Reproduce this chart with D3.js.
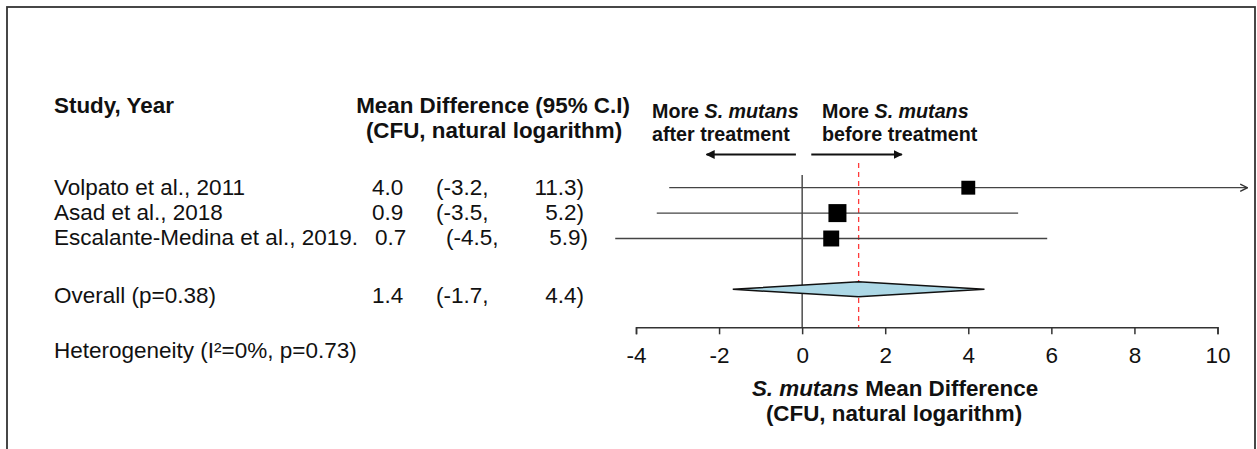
<!DOCTYPE html>
<html><head><meta charset="utf-8">
<script src="https://cdn.jsdelivr.net/npm/d3@7"></script>
<style>
html,body{margin:0;padding:0;background:#fff;}
svg{display:block;font-family:"Liberation Sans",Arial,Helvetica,sans-serif;}
</style></head>
<body>
<svg id="chart" width="1257" height="449"></svg>
<script>
// ---- data ----
const studies = ["Volpato et al., 2011", "Asad et al., 2018", "Escalante-Medina et al., 2019."];
const estimates = [4.0, 0.85, 0.7];
const lowerCI = [-3.2, -3.5, -4.5];
const upperCI = [11.3, 5.2, 5.9];
const weights = [25, 42, 33];
const estLabels = ["4.0", "0.9", "0.7"];
const lowLabels = ["(-3.2,", "(-3.5,", "(-4.5,"];
const highLabels = ["11.3)", "5.2)", "5.9)"];
const overall = {label: "Overall (p=0.38)", est: 1.36, lo: -1.67, hi: 4.39, estLabel: "1.4", lowLabel: "(-1.7,", highLabel: "4.4)"};
const heterogeneity = "Heterogeneity (I\u00B2=0%, p=0.73)";
const xTicks = [-4, -2, 0, 2, 4, 6, 8, 10];
const xDomain = [-4, 10];
const arrowLimit = 10.72;

// ---- layout ----
const svg = d3.select("#chart");
const x = d3.scaleLinear().domain(xDomain).range([636, 1217.5]);
const y = d3.scaleLinear().domain([0, 4]).range([187.7, 289.3]);
const size = d3.scaleSqrt().domain([0, d3.max(weights)]).range([0, 18]);
const axisY = 327.3;
const rowShift = [0, 0, 1];   // slight tab offsets in the original
const FS = "22.5px";

// frame
svg.append("rect").attr("x", 7).attr("y", 7).attr("width", 1248).attr("height", 470)
  .attr("fill", "none").attr("stroke", "#333").attr("stroke-width", 1.8);

const defs = svg.append("defs");
defs.append("marker").attr("id", "head").attr("viewBox", "0 0 10 10")
  .attr("refX", 9).attr("refY", 5).attr("markerWidth", 9).attr("markerHeight", 9)
  .attr("markerUnits", "userSpaceOnUse").attr("orient", "auto-start-reverse")
  .append("path").attr("d", "M0,0 L10,5 L0,10 Z").attr("fill", "#111");
defs.append("marker").attr("id", "chev").attr("viewBox", "0 0 10 10")
  .attr("refX", 9).attr("refY", 5).attr("markerWidth", 9).attr("markerHeight", 9)
  .attr("markerUnits", "userSpaceOnUse").attr("orient", "auto")
  .append("path").attr("d", "M1,1 L9,5 L1,9").attr("fill", "none").attr("stroke", "#333").attr("stroke-width", 1.5);

// headers
const bold = {"font-weight": "bold", "font-size": "22.4px", fill: "#111"};
function txt(g, s, xx, yy, anchor, opts) {
  const t = g.append("text").attr("x", xx).attr("y", yy).attr("dy", "0.35em")
    .attr("text-anchor", anchor || "start").attr("font-size", FS).attr("fill", "#111").text(s);
  if (opts) Object.entries(opts).forEach(([k, v]) => t.attr(k, v));
  return t;
}
txt(svg, "Study, Year", 54, 105, "start", bold);
txt(svg, "Mean Difference (95% C.I)", 493, 105, "middle", bold);
txt(svg, "(CFU, natural logarithm)", 494, 130, "middle", bold);

// direction labels
function mixed(xx, yy, parts, anchor, fs) {
  const t = svg.append("text").attr("x", xx).attr("y", yy).attr("dy", "0.35em")
    .attr("text-anchor", anchor).attr("font-size", fs).attr("font-weight", "bold").attr("fill", "#111");
  parts.forEach(p => t.append("tspan").attr("font-style", p[1] ? "italic" : "normal").text(p[0]));
  return t;
}
mixed(652, 111, [["More ", false], ["S. mutans", true]], "start", "19.7px");
mixed(652, 134, [["after treatment", false]], "start", "19.7px");
mixed(822, 111, [["More ", false], ["S. mutans", true]], "start", "19.7px");
mixed(822, 134, [["before treatment", false]], "start", "19.7px");
svg.append("line").attr("x1", x(-0.15)).attr("x2", x(-2.3)).attr("y1", 154.5).attr("y2", 154.5)
  .attr("stroke", "#111").attr("stroke-width", 2).attr("marker-end", "url(#head)");
svg.append("line").attr("x1", x(0.22)).attr("x2", x(2.4)).attr("y1", 154.5).attr("y2", 154.5)
  .attr("stroke", "#111").attr("stroke-width", 2).attr("marker-end", "url(#head)");

// study rows text
const rows = svg.append("g");
studies.forEach((s, i) => {
  const yy = y(i) - 1;
  txt(rows, s, 54, yy);
  txt(rows, estLabels[i], 372 + rowShift[i] * 3, yy);
  txt(rows, lowLabels[i], 436 + rowShift[i] * 10, yy);
  txt(rows, highLabels[i], 584 + rowShift[i] * 4, yy, "end");
});
txt(rows, overall.label, 54, 295.5);
txt(rows, overall.estLabel, 372, 295.5);
txt(rows, overall.lowLabel, 436, 295.5);
txt(rows, overall.highLabel, 584, 295.5, "end");
txt(rows, heterogeneity, 54, 350);

// reference lines
svg.append("line").attr("x1", x(0)).attr("x2", x(0)).attr("y1", 175).attr("y2", axisY)
  .attr("stroke", "#222").attr("stroke-width", 1.2);
svg.append("line").attr("x1", x(overall.est)).attr("x2", x(overall.est)).attr("y1", 163).attr("y2", axisY)
  .attr("stroke", "#ff3b3b").attr("stroke-width", 1.3).attr("stroke-dasharray", "5,4");

// CI lines
studies.forEach((s, i) => {
  const clipped = upperCI[i] > arrowLimit;
  svg.append("line").attr("x1", x(lowerCI[i])).attr("x2", x(clipped ? arrowLimit : upperCI[i]))
    .attr("y1", y(i)).attr("y2", y(i)).attr("stroke", "#444").attr("stroke-width", 1.3)
    .attr("marker-end", clipped ? "url(#chev)" : null);
});
// squares
svg.selectAll("rect.sq").data(studies).join("rect").attr("class", "sq")
  .attr("x", (d, i) => x(estimates[i]) - size(weights[i]) / 2)
  .attr("y", (d, i) => y(i) - size(weights[i]) / 2)
  .attr("width", (d, i) => size(weights[i])).attr("height", (d, i) => size(weights[i]))
  .attr("fill", "#000");

// diamond
const yo = y(4), h = 7.5;
svg.append("path")
  .attr("d", `M${x(overall.lo)},${yo} L${x(overall.est)},${yo - h} L${x(overall.hi)},${yo} L${x(overall.est)},${yo + h} Z`)
  .attr("fill", "#add8e6").attr("stroke", "#111").attr("stroke-width", 1.5);

// axis
const axis = d3.axisBottom(x).tickValues(xTicks).tickSize(7).tickPadding(13).tickFormat(d3.format("d"));
const ga = svg.append("g").attr("transform", `translate(0,${axisY})`).call(axis);
ga.select(".domain").attr("stroke", "#333").attr("stroke-width", 1.5);
ga.selectAll(".tick line").attr("stroke", "#333").attr("stroke-width", 1.5);
ga.selectAll(".tick text").attr("font-size", "22.5px").attr("fill", "#111")
  .attr("font-family", "'Liberation Sans',Arial,sans-serif").text(d => d < 0 ? "-" + Math.abs(d) : d);

mixed(895, 388, [["S. mutans", true], [" Mean Difference", false]], "middle", "22.4px");
mixed(894, 413, [["(CFU, natural logarithm)", false]], "middle", "22.4px");
</script>
</body></html>
